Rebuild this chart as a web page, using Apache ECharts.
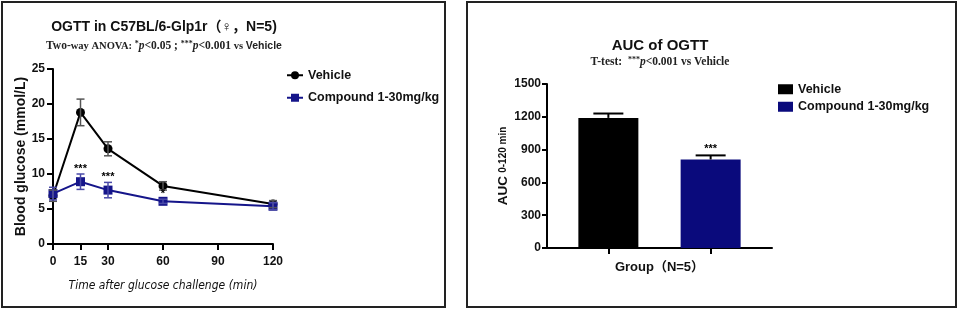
<!DOCTYPE html>
<html><head><meta charset="utf-8">
<script src="https://cdn.jsdelivr.net/npm/echarts@6/dist/echarts.min.js"></script>
<style>html,body{margin:0;padding:0;background:#fff}#c{width:960px;height:312px}</style>
</head><body><div id="c"></div>
<script>
// ---- data ----
const timePoints = [0, 15, 30, 60, 120];
const xTickValues = [0, 15, 30, 60, 90, 120];
const vehicleMean = [6.9, 18.8, 13.6, 8.3, 5.7];
const vehicleSem = [0.8, 1.9, 1.0, 0.6, 0.5];
const compoundMean = [7.2, 8.9, 7.7, 6.1, 5.4];
const compoundSem = [0.9, 1.1, 1.1, 0.3, 0.5];
const timeSig = ['', '***', '***', '*', ''];
const groups = ['Vehicle', 'Compound 1-30mg/kg'];
const groupPos = [0, 1];
const aucMean = [1190, 810];
const aucSem = [40, 37];
const aucSig = ['', '***'];

const F = '"Liberation Sans", Arial, "Noto Sans CJK SC", sans-serif';
const FT = '"Liberation Sans", "DejaVu Sans", "Noto Sans CJK SC", sans-serif';
const SERIF = '"Liberation Serif", "Times New Roman", serif';
const BLACK = '#000000';
const NAVY = '#15158a';
const NAVY_BAR = '#0a0a7c';

const chart = echarts.init(document.getElementById('c'), null, {renderer: 'canvas'});

function errSeries(name, xs, means, sems, color, capHalf, sig, xAxisIndex, yAxisIndex, upperOnly, lw, sigOffset) {
  return {
    type: 'custom', name: name, xAxisIndex: xAxisIndex, yAxisIndex: yAxisIndex, z: 4, silent: true,
    data: xs.map((x, i) => [x, means[i], sems[i], i]),
    renderItem: function (params, api) {
      const x = api.value(0), m = api.value(1), s = api.value(2), i = api.value(3);
      const top = api.coord([x, m + s]);
      const bot = api.coord([x, upperOnly ? m : m - s]);
      const st = {stroke: color, lineWidth: lw};
      const children = [
        {type: 'line', shape: {x1: top[0], y1: top[1], x2: bot[0], y2: bot[1]}, style: st},
        {type: 'line', shape: {x1: top[0] - capHalf, y1: top[1], x2: top[0] + capHalf, y2: top[1]}, style: st}
      ];
      if (!upperOnly) children.push({type: 'line', shape: {x1: bot[0] - capHalf, y1: bot[1], x2: bot[0] + capHalf, y2: bot[1]}, style: st});
      if (sig && sig[i]) children.push({type: 'text', style: {text: sig[i], x: top[0], y: top[1] - sigOffset, align: 'center', verticalAlign: 'bottom', fill: '#000', font: 'bold 11px ' + F}});
      return {type: 'group', children: children};
    }
  };
}

const option = {
  backgroundColor: '#fff',
  animation: false,
  title: [
    {text: 'OGTT in C57BL/6-Glp1r（♀，N=5)', left: 159, top: 15, textAlign: 'center',
     textStyle: {fontFamily: FT, fontSize: 14, fontWeight: 'bold', color: '#111'}},
    {text: '{b|Two-}{s|way ANOVA: }{sup|*}{i|p}{b|<0.05 ; }{sup|***}{i|p}{b|<0.001 }{s|vs }{v|Vehicle}',
     left: 159, top: 35, textAlign: 'center',
     textStyle: {rich: {
       b: {fontFamily: SERIF, fontSize: 11.5, fontWeight: 'bold', color: '#222'},
       s: {fontFamily: SERIF, fontSize: 10.5, fontWeight: 'bold', color: '#222'},
       sup: {fontFamily: SERIF, fontSize: 8, fontWeight: 'bold', color: '#222', verticalAlign: 'top', padding: [0, 0, 4, 0]},
       i: {fontFamily: SERIF, fontSize: 11.5, fontWeight: 'bold', fontStyle: 'italic', color: '#222'},
       v: {fontFamily: F, fontSize: 10.5, fontWeight: 'bold', color: '#222'}
     }}},
    {text: 'AUC of OGTT', left: 655, top: 33, textAlign: 'center',
     textStyle: {fontFamily: F, fontSize: 15, fontWeight: 'bold', color: '#111'}},
    {text: '{b|T-test:  }{sup|***}{i|p}{b|<0.001 vs Vehicle}', left: 655, top: 51, textAlign: 'center',
     textStyle: {rich: {
       b: {fontFamily: SERIF, fontSize: 11.5, fontWeight: 'bold', color: '#222'},
       sup: {fontFamily: SERIF, fontSize: 8, fontWeight: 'bold', color: '#222', verticalAlign: 'top', padding: [0, 0, 4, 0]},
       i: {fontFamily: SERIF, fontSize: 11.5, fontWeight: 'bold', fontStyle: 'italic', color: '#222'}
     }}}
  ],
  legend: [
    {data: groups, left: 281, top: 64, orient: 'vertical', itemGap: 10, itemWidth: 16, itemHeight: 10,
     textStyle: {fontFamily: F, fontSize: 12.5, fontWeight: 'bold', color: '#111'}, selectedMode: false},
    {data: groups.map(g => ({name: 'AUC ' + g, icon: 'rect'})), left: 773, top: 78, orient: 'vertical', itemGap: 5, itemWidth: 15, itemHeight: 10,
     formatter: n => n.replace('AUC ', ''),
     textStyle: {fontFamily: F, fontSize: 12.5, fontWeight: 'bold', color: '#111'}, selectedMode: false}
  ],
  grid: [
    {left: 53, top: 69, width: 220, height: 175, containLabel: false},
    {left: 547, top: 84, width: 225, height: 164, containLabel: false}
  ],
  xAxis: [
    {gridIndex: 0, type: 'value', min: 0, max: 120,
     name: 'Time after glucose challenge (min)', nameLocation: 'middle', nameGap: 36,
     nameTextStyle: {fontFamily: '"DejaVu Sans Condensed", "Liberation Sans Narrow", ' + F, fontSize: 12, fontStyle: 'italic', color: '#111'},
     axisLine: {onZero: false, lineStyle: {color: '#000', width: 2}},
     axisTick: {show: true, length: 6, lineStyle: {color: '#000', width: 2}, customValues: xTickValues},
     axisLabel: {customValues: xTickValues, margin: 12, fontFamily: F, fontSize: 12, fontWeight: 'bold', color: '#111'},
     splitLine: {show: false}},
    {gridIndex: 1, type: 'value', min: -0.6, max: 1.6,
     name: 'Group（N=5）', nameLocation: 'middle', nameGap: 13,
     nameTextStyle: {fontFamily: F, fontSize: 13, fontWeight: 'bold', color: '#111'},
     axisLine: {onZero: false, lineStyle: {color: '#000', width: 2}},
     axisTick: {show: true, length: 6, lineStyle: {color: '#000', width: 2}, customValues: groupPos},
     axisLabel: {show: false},
     splitLine: {show: false}}
  ],
  yAxis: [
    {gridIndex: 0, type: 'value', min: 0, max: 25, interval: 5,
     name: 'Blood glucose (mmol/L)', nameLocation: 'middle', nameGap: 18,
     nameTextStyle: {fontFamily: F, fontSize: 14, fontWeight: 'bold', color: '#111'},
     axisLine: {show: true, onZero: false, lineStyle: {color: '#000', width: 2}},
     axisTick: {show: true, length: 6, lineStyle: {color: '#000', width: 2}},
     axisLabel: {margin: 8, fontFamily: F, fontSize: 12, fontWeight: 'bold', color: '#111'},
     splitLine: {show: false}},
    {gridIndex: 1, type: 'value', min: 0, max: 1500, interval: 300,
     name: '{a|AUC} {b|0-120 min}', nameLocation: 'middle', nameGap: 30,
     nameTextStyle: {rich: {a: {fontFamily: F, fontSize: 13.5, fontWeight: 'bold', color: '#111'},
                            b: {fontFamily: F, fontSize: 10, fontWeight: 'bold', color: '#111'}}},
     axisLine: {show: true, onZero: false, lineStyle: {color: '#000', width: 2}},
     axisTick: {show: true, length: 5, lineStyle: {color: '#000', width: 2}},
     axisLabel: {margin: 6, formatter: v => String(v), fontFamily: F, fontSize: 12, fontWeight: 'bold', color: '#111'},
     splitLine: {show: false}}
  ],
  graphic: [
    {type: 'rect', shape: {x: 2, y: 2, width: 443, height: 305}, style: {fill: 'none', stroke: '#222', lineWidth: 2}, z: 100},
    {type: 'rect', shape: {x: 467, y: 2, width: 489, height: 305}, style: {fill: 'none', stroke: '#222', lineWidth: 2}, z: 100}
  ],
  series: [
    errSeries('errV', timePoints, vehicleMean, vehicleSem, '#555', 4, null, 0, 0, false, 1.5, 0),
    errSeries('errC', timePoints, compoundMean, compoundSem, '#4a4aa8', 4, timeSig, 0, 0, false, 1.5, 0),
    {name: groups[0], type: 'line', xAxisIndex: 0, yAxisIndex: 0, z: 3,
     data: timePoints.map((t, i) => [t, vehicleMean[i]]),
     symbol: 'circle', symbolSize: 9, lineStyle: {color: BLACK, width: 2}, itemStyle: {color: BLACK}},
    {name: groups[1], type: 'line', xAxisIndex: 0, yAxisIndex: 0, z: 3,
     data: timePoints.map((t, i) => [t, compoundMean[i]]),
     symbol: 'rect', symbolSize: 9, lineStyle: {color: NAVY, width: 2}, itemStyle: {color: NAVY}},
    {name: 'AUC ' + groups[0], type: 'bar', xAxisIndex: 1, yAxisIndex: 1, barWidth: 60, barGap: '-100%', z: 2,
     data: [[groupPos[0], aucMean[0]]], itemStyle: {color: '#000'}},
    {name: 'AUC ' + groups[1], type: 'bar', xAxisIndex: 1, yAxisIndex: 1, barWidth: 60, barGap: '-100%', z: 2,
     data: [[groupPos[1], aucMean[1]]], itemStyle: {color: NAVY_BAR}},
    errSeries('errAUC', groupPos, aucMean, aucSem, '#000', 15, aucSig, 1, 1, true, 2, 1)
  ]
};
chart.setOption(option);
</script></body></html>
